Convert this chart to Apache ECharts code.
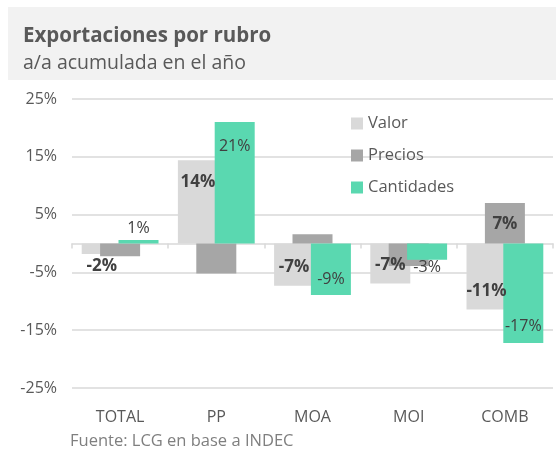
<!DOCTYPE html>
<html>
<head>
<meta charset="utf-8">
<script src="https://cdn.jsdelivr.net/npm/echarts@6/dist/echarts.min.js"></script>
<style>
  html, body { margin: 0; padding: 0; background: #fff; }
  #main { width: 556px; height: 453px; }
</style>
</head>
<body>
<div id="main"></div>
<script>
// datos (variacion a/a acumulada, %)
var categorias = ['TOTAL', 'PP', 'MOA', 'MOI', 'COMB']
var valor = [-1.8, 14.4, -7.3, -6.9, -11.4]
var precios = [-2.2, -5.2, 1.6, -3.9, 7.0]
var cantidades = [0.6, 21.0, -8.9, -2.8, -17.2]
// que etiquetas de precios se muestran
var preciosEtiqueta = [false, false, false, false, true]

var fuente = 'Open Sans'
var colorTexto = '#404040'

// posicion de la etiqueta segun signo y largo de la barra
function etiqueta (v, negrita, mostrar) {
  var corta = Math.abs(v) < 4
  var pos, dist
  if (v >= 0) {
    pos = corta ? 'top' : 'insideTop'
    dist = corta ? 4 : (negrita ? 13 : 16)
  } else {
    pos = corta ? 'bottom' : 'insideBottom'
    dist = corta ? (negrita ? 4 : 0) : (negrita ? 10 : 8)
  }
  return {
    show: mostrar,
    position: pos,
    distance: dist,
    fontFamily: fuente,
    fontSize: negrita ? 17 : 16,
    fontWeight: negrita ? 'bold' : 'normal',
    color: colorTexto,
    formatter: function (p) { return Math.round(p.value) + '%' }
  }
}

function armar (valores, negrita, mostrar) {
  return valores.map(function (v, i) {
    return { value: v, label: etiqueta(v, negrita, mostrar ? mostrar[i] : true) }
  })
}

var myChart = echarts.init(document.getElementById('main'))

var option = {
  animation: false,
  backgroundColor: '#fff',
  graphic: [{
    type: 'rect',
    left: 8,
    top: 7,
    shape: { width: 548, height: 73 },
    style: { fill: '#f2f2f2' },
    z: -10
  }, {
    type: 'text',
    left: 70,
    top: 433,
    style: { text: 'Fuente: LCG en base a INDEC', font: '16.5px "Open Sans"', fill: '#7f7f7f' }
  }],
  title: {
    text: 'Exportaciones por rubro',
    subtext: 'a/a acumulada en el año',
    left: 18,
    top: 21,
    itemGap: 6,
    textStyle: { fontFamily: fuente, fontSize: 20.5, fontWeight: 'bold', color: '#595959' },
    subtextStyle: { fontFamily: fuente, fontSize: 19.5, color: '#595959' }
  },
  legend: {
    orient: 'vertical',
    left: 346,
    top: 110,
    icon: 'rect',
    itemWidth: 12,
    itemHeight: 12,
    itemGap: 15,
    textStyle: { fontFamily: fuente, fontSize: 16.5, color: '#595959' },
    data: ['Valor', 'Precios', 'Cantidades']
  },
  grid: { left: 72, right: 3, top: 99, bottom: 65 },
  xAxis: [{
    type: 'category',
    data: categorias,
    axisLine: { onZero: true, lineStyle: { color: '#d9d9d9', width: 1.5 } },
    axisTick: { show: true, length: 5, lineStyle: { color: '#d9d9d9', width: 1.5 } },
    axisLabel: { show: false }
  }, {
    type: 'category',
    data: categorias,
    position: 'bottom',
    axisLine: { show: false, onZero: false },
    axisTick: { show: false },
    axisLabel: { margin: 21, fontFamily: fuente, fontSize: 16, color: '#595959' }
  }],
  yAxis: {
    type: 'value',
    min: -25,
    max: 25,
    interval: 10,
    axisLine: { show: false },
    axisTick: { show: false },
    splitLine: { lineStyle: { color: '#d9d9d9', width: 1.5 } },
    axisLabel: { margin: 15, fontFamily: fuente, fontSize: 16, color: '#595959', formatter: '{value}%' }
  },
  series: [{
    name: 'Valor',
    type: 'bar',
    xAxisIndex: 0,
    barWidth: 40,
    barGap: '-54%',
    itemStyle: { color: '#d9d9d9' },
    data: armar(valor, true)
  }, {
    name: 'Precios',
    type: 'bar',
    xAxisIndex: 0,
    barWidth: 40,
    barGap: '-54%',
    itemStyle: { color: '#a6a6a6' },
    data: armar(precios, true, preciosEtiqueta)
  }, {
    name: 'Cantidades',
    type: 'bar',
    xAxisIndex: 0,
    barWidth: 40,
    barGap: '-54%',
    itemStyle: { color: '#5ad8b0' },
    data: armar(cantidades, false)
  }]
}

myChart.setOption(option)
</script>
</body>
</html>
